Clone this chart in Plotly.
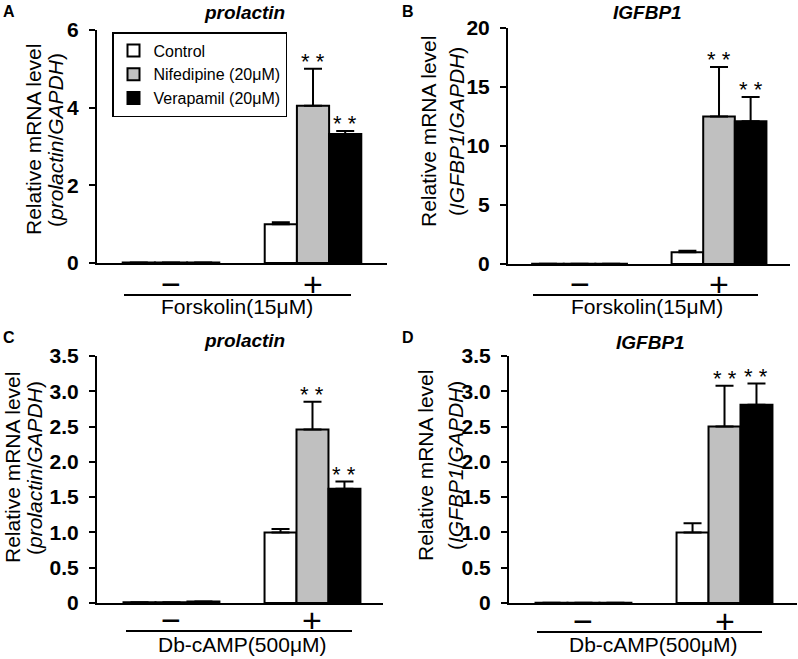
import plotly.graph_objects as go

# ---------------- data ----------------
groups = ["−", "+"]
series = ["Control", "Nifedipine (20μM)", "Verapamil (20μM)"]
colors = ["#ffffff", "#c0c0c0", "#000000"]

# Panel A: prolactin, Forskolin
a_control = [0.01, 1.00]
a_nif = [0.015, 4.05]
a_ver = [0.01, 3.32]
a_control_err = [0, 0.05]
a_nif_err = [0, 0.95]
a_ver_err = [0, 0.08]

# Panel B: IGFBP1, Forskolin
b_control = [0.02, 1.00]
b_nif = [0.02, 12.5]
b_ver = [0.02, 12.1]
b_control_err = [0, 0.12]
b_nif_err = [0, 4.2]
b_ver_err = [0, 2.05]

# Panel C: prolactin, Db-cAMP
c_control = [0.01, 1.00]
c_nif = [0.01, 2.46]
c_ver = [0.02, 1.62]
c_control_err = [0, 0.05]
c_nif_err = [0, 0.39]
c_ver_err = [0, 0.10]

# Panel D: IGFBP1, Db-cAMP
d_control = [0.005, 1.00]
d_nif = [0.005, 2.50]
d_ver = [0.005, 2.81]
d_control_err = [0, 0.13]
d_nif_err = [0, 0.58]
d_ver_err = [0, 0.30]

# significance marks: (series index, group index)
stars = [(1, 1), (2, 1)]

a_ticks = [0, 2, 4, 6]
a_ticktext = ["0", "2", "4", "6"]
b_ticks = [0, 5, 10, 15, 20]
b_ticktext = ["0", "5", "10", "15", "20"]
cd_ticks = [0, 0.5, 1.0, 1.5, 2.0, 2.5, 3.0, 3.5]
cd_ticktext = ["0", "0.5", "1.0", "1.5", "2.0", "2.5", "3.0", "3.5"]

# ---------------- layout helpers ----------------
W, H = 798, 659
FONT = "Arial, Liberation Sans, sans-serif"
BARGAP = 0.32


def px(x):
    return x / W


def py(y):
    return 1 - y / H


panels = [
    dict(label="A", title="prolactin", gene="prolactin",
         vals=[a_control, a_nif, a_ver], errs=[a_control_err, a_nif_err, a_ver_err],
         yr=[0, 6], tv=a_ticks, tt=a_ticktext, xr=[-0.521, 1.521],
         box=(97, 387, 30, 263), treat="Forskolin(15μM)",
         lab=(9, 12), tit=(244, 13), yt=(33, 55, 140), line=(124, 351, 295), tl=(237, 307), pm=284),
    dict(label="B", title="IGFBP1", gene="IGFBP1",
         vals=[b_control, b_nif, b_ver], errs=[b_control_err, b_nif_err, b_ver_err],
         yr=[0, 20], tv=b_ticks, tt=b_ticktext, xr=[-0.513, 1.509],
         box=(508, 790, 28, 264), treat="Forskolin(15μM)",
         lab=(408, 12), tit=(647, 13), yt=(428, 456, 132), line=(533, 758, 295), tl=(647, 307), pm=284),
    dict(label="C", title="prolactin", gene="prolactin",
         vals=[c_control, c_nif, c_ver], errs=[c_control_err, c_nif_err, c_ver_err],
         yr=[0, 3.5], tv=cd_ticks, tt=cd_ticktext, xr=[-0.528, 1.5],
         box=(97, 383, 356, 603), treat="Db-cAMP(500μM)",
         lab=(9, 337), tit=(244, 340), yt=(12, 34, 468), line=(126, 352, 631), tl=(242, 644), pm=620),
    dict(label="D", title="IGFBP1", gene="IGFBP1",
         vals=[d_control, d_nif, d_ver], errs=[d_control_err, d_nif_err, d_ver_err],
         yr=[0, 3.5], tv=cd_ticks, tt=cd_ticktext, xr=[-0.528, 1.514],
         box=(509, 797, 356, 603), treat="Db-cAMP(500μM)",
         lab=(408, 337), tit=(650, 342), yt=(425, 455, 466), line=(537, 762, 632), tl=(653, 644), pm=621),
]

fig = go.Figure()
layout = dict(
    template="none",
    width=W, height=H, margin=dict(l=0, r=0, t=0, b=0, pad=0), autosize=False,
    paper_bgcolor="white", plot_bgcolor="white",
    barmode="group", bargap=BARGAP, bargroupgap=0,
    font=dict(family=FONT, color="black"),
    showlegend=True,
    legend=dict(x=px(112), y=py(32), xanchor="left", yanchor="top",
                bordercolor="black", borderwidth=1.5, bgcolor="white",
                font=dict(family=FONT, size=16, color="black"),
                itemwidth=30, tracegroupgap=0),
)
annotations = []
shapes = []
bw = (1 - BARGAP) / 3


def note(x, y, text, size, **kw):
    d = dict(x=px(x), y=py(y), xref="paper", yref="paper", text=text, showarrow=False,
             xanchor="center", yanchor="middle",
             font=dict(family=FONT, size=size, color="black"))
    d.update(kw)
    return d


for i, p in enumerate(panels):
    n = "" if i == 0 else str(i + 1)
    xa, ya = "x" + n, "y" + n
    x0, x1, y0, y1 = p["box"]
    layout["xaxis" + n] = dict(
        domain=[px(x0), px(x1)], range=p["xr"], anchor=ya, automargin=False,
        tickvals=[0, 1], showticklabels=False, ticks="", showgrid=False, zeroline=False,
        showline=True, linecolor="black", linewidth=2,
    )
    layout["yaxis" + n] = dict(
        domain=[py(y1), py(y0)], range=p["yr"], anchor=xa, automargin=False,
        tickvals=p["tv"], ticktext=p["tt"],
        ticks="outside", ticklen=6, tickwidth=2,
        tickcolor="black", showgrid=False, zeroline=False,
        showline=True, linecolor="black", linewidth=2,
        tickfont=dict(family=FONT, size=21, color="black", weight="bold"),
        ticklabelstandoff=6,
    )
    for s in range(3):
        fig.add_trace(go.Bar(
            x=[0, 1], y=p["vals"][s], name=series[s], xaxis=xa, yaxis=ya,
            marker=dict(color=colors[s], line=dict(color="black", width=2)),
            error_y=dict(type="data", array=p["errs"][s], arrayminus=[0, 0], symmetric=False,
                         color="black", thickness=2, width=9),
            showlegend=(i == 0), legendgroup=series[s], hoverinfo="skip",
        ))
    for (s, g) in stars:
        annotations.append(dict(
            x=g + (s - 1) * bw, y=p["vals"][s][g] + p["errs"][s][g], xref=xa, yref=ya,
            text="* *", showarrow=False, xanchor="center", yanchor="bottom", yshift=-7,
            font=dict(family=FONT, size=22, color="black")))
    # group labels (− / +) under each group
    for g in range(2):
        annotations.append(dict(x=g, y=py(p["pm"]), xref=xa, yref="paper", text=groups[g],
                                showarrow=False, xanchor="center", yanchor="middle",
                                font=dict(family=FONT, size=34, color="black")))
    annotations.append(note(p["lab"][0], p["lab"][1], "<b>" + p["label"] + "</b>", 16))
    annotations.append(note(p["tit"][0], p["tit"][1], "<b><i>" + p["title"] + "</i></b>", 19))
    annotations.append(note(p["yt"][0], p["yt"][2], "Relative mRNA level", 21, textangle=-90))
    annotations.append(note(p["yt"][1], p["yt"][2],
                            "(<i>" + p["gene"] + "</i>/<i>GAPDH</i>)", 21, textangle=-90))
    lx0, lx1, ly = p["line"]
    shapes.append(dict(type="line", xref="paper", yref="paper", x0=px(lx0), x1=px(lx1),
                       y0=py(ly), y1=py(ly), line=dict(color="black", width=2)))
    annotations.append(note(p["tl"][0], p["tl"][1], p["treat"], 21))

layout["annotations"] = annotations
layout["shapes"] = shapes
fig.update_layout(**layout)
fig.write_html("out.html", config={"displayModeBar": False},
               post_script="document.body.style.margin='0px';")
